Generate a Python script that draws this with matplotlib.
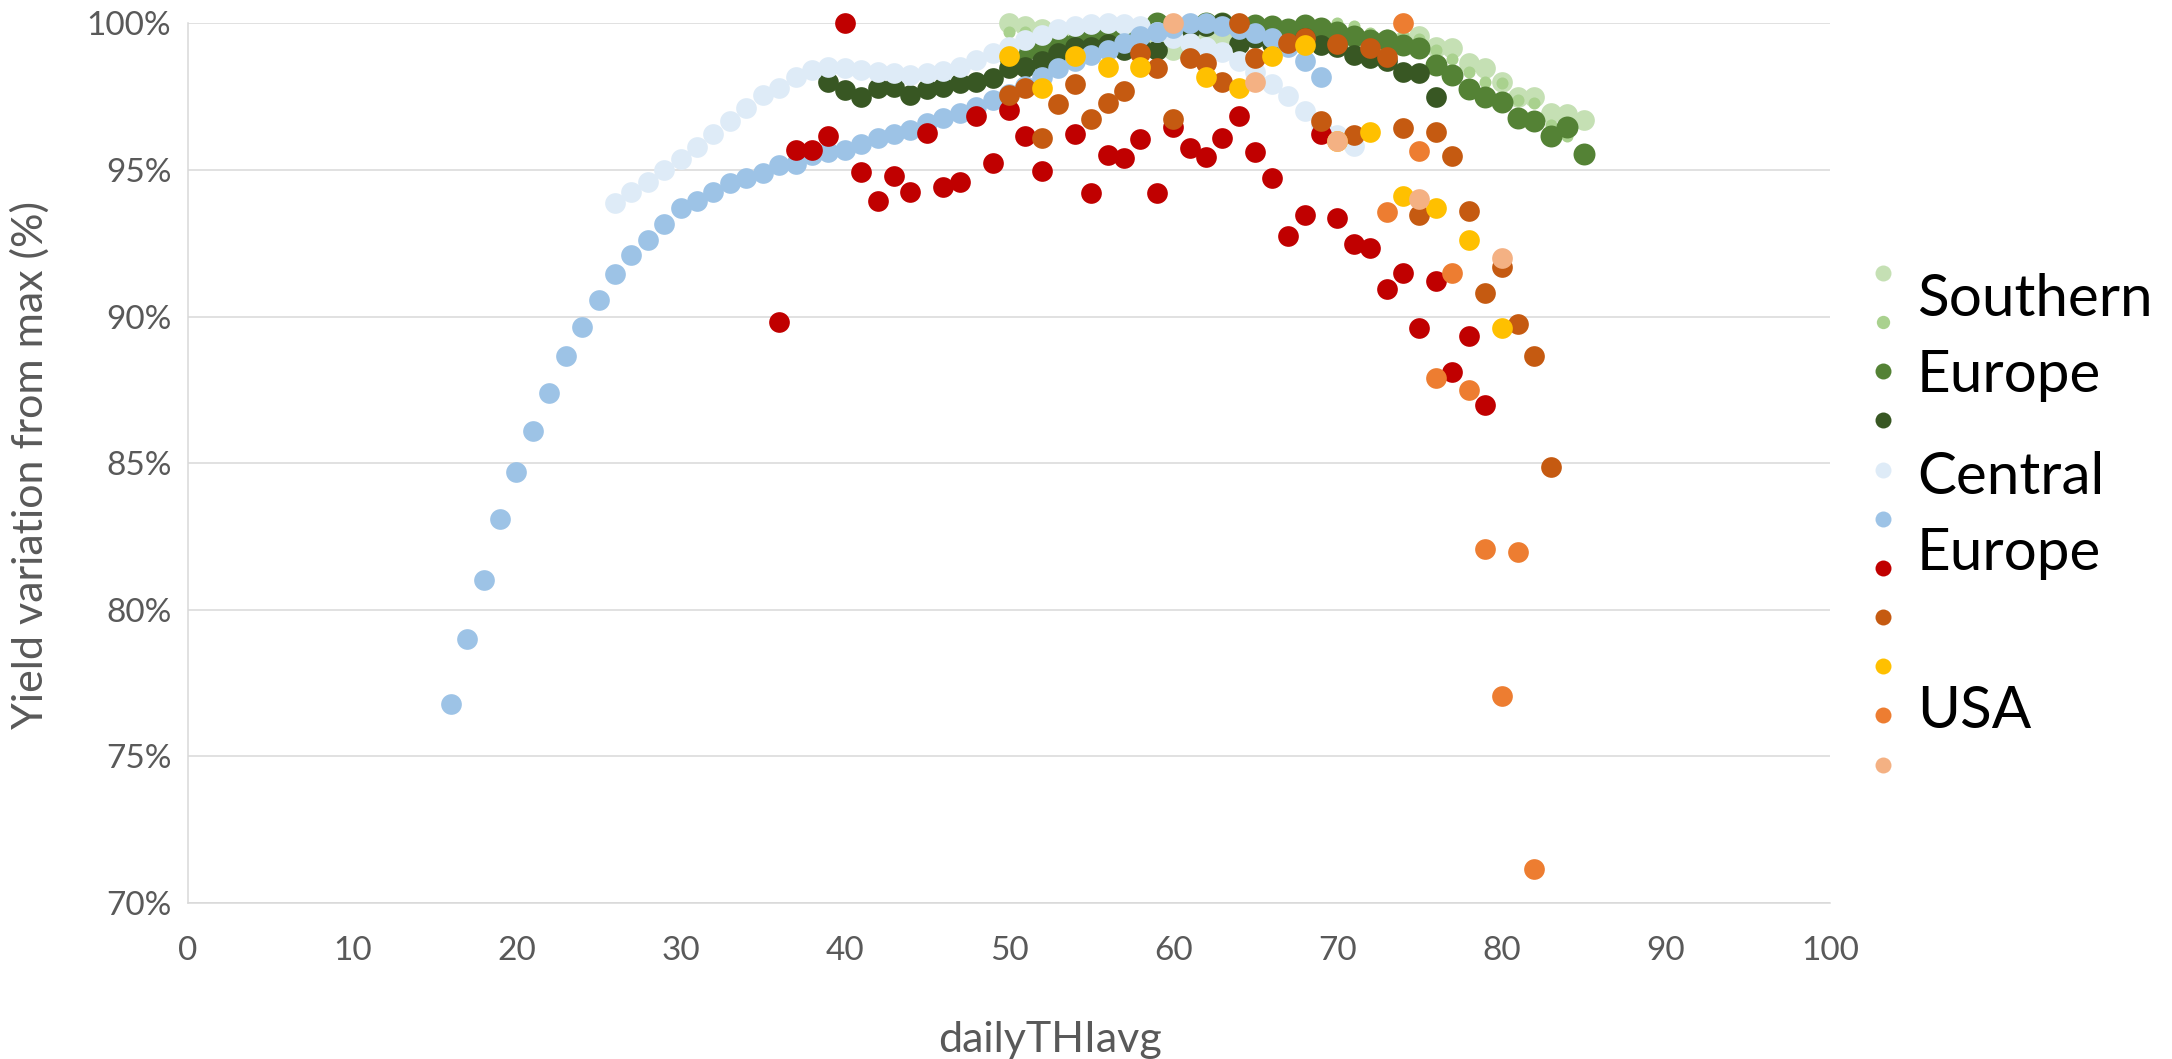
import matplotlib
matplotlib.use("Agg")
import matplotlib.pyplot as plt
from matplotlib.lines import Line2D
from matplotlib.ticker import FuncFormatter, MultipleLocator

plt.rcParams['font.family'] = ['Lato', 'DejaVu Sans']

# Southern Europe
south_a_x = list(range(50, 86))
south_a_y = [100, 99.9, 99.8, 99.7, 99.6, 99.6, 99.55, 99.5, 99.4, 99.3, 99.1, 99.5, 99.6, 99.6,
             99.6, 99.6, 99.5, 99.5, 99.5, 99.4, 99.6, 99.5, 99.4, 99.3, 99.4, 99.55, 99.2, 99.15,
             98.64, 98.47, 98.0, 97.5, 97.5, 96.93, 96.9, 96.7]
south_b_x = list(range(50, 85))
south_b_y = [99.7, 99.7, 99.6, 99.6, 99.7, 99.7, 99.6, 99.6, 99.7, 99.8, 99.8, 99.9, 99.9, 99.9,
             99.8, 99.8, 99.8, 99.9, 99.9, 99.9, 100, 99.9, 99.66, 99.6, 99.55, 99.45, 99.1, 98.77,
             98.35, 98.0, 97.95, 97.4, 97.27, 96.53, 96.14]
south_c_x = list(range(50, 86))
south_c_y = [98.9, 99.1, 99.2, 99.4, 99.3, 99.5, 99.6, 99.7, 99.8, 100, 99.9, 99.9, 100, 100,
             99.9, 99.95, 99.9, 99.8, 99.94, 99.83, 99.7, 99.55, 99.43, 99.43, 99.26, 99.15, 98.58,
             98.24, 97.75, 97.5, 97.33, 96.76, 96.68, 96.16, 96.48, 95.55]
south_d_x = list(range(39, 77))
south_d_y = [98.0, 97.73, 97.5, 97.78, 97.82, 97.56, 97.75, 97.84, 97.98, 98.0, 98.13, 98.47,
             98.52, 98.7, 98.98, 99.2, 99.2, 99.3, 99.1, 99.2, 99.1, 99.6, 99.8, 99.9, 100, 99.3,
             99.5, 99.3, 99.3, 99.5, 99.26, 99.2, 98.92, 98.8, 98.7, 98.35, 98.3, 97.48]

# Central Europe
central_a_x = list(range(26, 72))
central_a_y = [93.88, 94.26, 94.6, 95.0, 95.36, 95.79, 96.22, 96.68, 97.1, 97.55, 97.8, 98.18,
               98.4, 98.52, 98.47, 98.4, 98.35, 98.3, 98.24, 98.3, 98.38, 98.52, 98.75, 98.98,
               99.2, 99.43, 99.6, 99.8, 99.9, 99.98, 100, 99.98, 99.9, 99.7, 99.5, 99.34, 99.2,
               99.03, 98.7, 98.35, 97.92, 97.52, 97.0, 96.5, 96.2, 95.8]
central_b_x = list(range(16, 70))
central_b_y = [76.8, 79.0, 81.0, 83.1, 84.7, 86.1, 87.4, 88.66, 89.66, 90.57, 91.45, 92.1, 92.61,
               93.15, 93.7, 93.93, 94.23, 94.57, 94.72, 94.9, 95.17, 95.2, 95.5, 95.6, 95.68,
               95.9, 96.08, 96.23, 96.36, 96.6, 96.76, 96.93, 97.16, 97.4, 97.6, 97.85, 98.16,
               98.47, 98.7, 98.92, 99.1, 99.34, 99.57, 99.72, 99.83, 100, 100, 99.9, 99.8, 99.66,
               99.5, 99.2, 98.7, 98.16]

# USA
usa_a_x = [36, 37, 38, 39, 40, 41, 42, 43, 44, 45, 46, 47, 48, 49, 50, 51, 52, 54, 55, 56, 57,
           58, 59, 60, 61, 62, 63, 64, 65, 66, 67, 68, 69, 70, 71, 72, 73, 74, 75, 76, 77, 78, 79]
usa_a_y = [89.8, 95.68, 95.68, 96.14, 100, 94.92, 93.95, 94.8, 94.25, 96.27, 94.41, 94.6, 96.85,
           95.23, 97.05, 96.14, 94.98, 96.22, 94.2, 95.5, 95.4, 96.07, 94.2, 96.47, 95.74, 95.43,
           96.1, 96.85, 95.61, 94.74, 92.75, 93.45, 96.24, 93.36, 92.47, 92.35, 90.93, 91.5,
           89.6, 91.2, 88.1, 89.35, 86.97]
usa_b_x = [50, 51, 52, 53, 54, 55, 56, 57, 58, 59, 60, 61, 62, 63, 64, 65, 67, 68, 69, 70, 71,
           72, 73, 74, 75, 76, 77, 78, 79, 80, 81, 82, 83]
usa_b_y = [97.56, 97.78, 96.08, 97.26, 97.93, 96.74, 97.27, 97.7, 98.98, 98.47, 96.74, 98.8,
           98.66, 98.0, 100, 98.8, 99.34, 99.5, 96.67, 99.3, 96.2, 99.15, 98.86, 96.42, 93.47,
           96.3, 95.49, 93.6, 90.8, 91.7, 89.76, 88.64, 84.88]
usa_c_x = [50, 52, 54, 56, 58, 62, 64, 66, 68, 70, 72, 74, 76, 78, 80]
usa_c_y = [98.89, 97.78, 98.89, 98.52, 98.52, 98.16, 97.78, 98.89, 99.26, 95.97, 96.3, 94.1,
           93.7, 92.6, 89.62]
usa_d_x = [73, 74, 75, 76, 77, 78, 79, 80, 81, 82]
usa_d_y = [93.58, 100, 95.66, 87.92, 91.5, 87.48, 82.07, 77.07, 81.96, 71.17]
usa_e_x = [60, 65, 70, 75, 80]
usa_e_y = [100, 98.0, 95.97, 94.0, 91.99]

x_ticks = list(range(0, 101, 10))
legend_words = ["Southern", "Europe", "Central", "Europe", "USA"]

series = [
    (south_a_x, south_a_y, "#C5E0B4", 222),
    (south_b_x, south_b_y, "#A9D18E", 75),
    (south_c_x, south_c_y, "#548235", 250),
    (south_d_x, south_d_y, "#385723", 222),
    (central_a_x, central_a_y, "#DEEBF7", 222),
    (central_b_x, central_b_y, "#9DC3E6", 222),
    (usa_a_x, usa_a_y, "#C00000", 222),
    (usa_b_x, usa_b_y, "#C55A11", 222),
    (usa_c_x, usa_c_y, "#FFC000", 222),
    (usa_d_x, usa_d_y, "#ED7D31", 222),
    (usa_e_x, usa_e_y, "#F4B183", 222),
]

fig = plt.figure(figsize=(21.72, 10.59), dpi=100)
ax = fig.add_axes([0.0866, 0.1473, 0.7559, 0.8307])

for xs, ys, col, s in series:
    ax.scatter(xs, ys, s=s, color=col, linewidths=0, clip_on=False, zorder=3)

ax.set_xlim(0, 100)
ax.set_ylim(70, 100)
ax.set_xticks(x_ticks)
ax.yaxis.set_major_locator(MultipleLocator(5))
ax.yaxis.set_major_formatter(FuncFormatter(lambda v, p: f"{v:.0f}%"))
ax.grid(axis='y', color='#D9D9D9', lw=1.1)
ax.set_axisbelow(True)
for side in ['top', 'right']:
    ax.spines[side].set_visible(False)
for side in ['left', 'bottom']:
    ax.spines[side].set_color('#D9D9D9')
    ax.spines[side].set_linewidth(1.1)
ax.tick_params(length=0, labelsize=24, colors='#595959')
ax.tick_params(axis='x', pad=24)
ax.tick_params(axis='y', pad=12)

fig.text(0.4834, 0.0066, "dailyTHIavg", fontsize=31, color='#595959', ha='center', va='baseline')
fig.text(0.0138, 0.561, "Yield variation from max (%)", fontsize=31, color='#595959',
         rotation=90, ha='center', va='center')

# legend markers (labels written separately, as in the source)
handles = []
for i, (xs, ys, col, s) in enumerate(series):
    ms = 9.6 if i == 1 else 11.5
    handles.append(Line2D([], [], ls='none', marker='o', ms=ms, color=col, mew=0))
ax.legend(handles, [''] * len(handles), loc='upper left',
          bbox_to_anchor=(0.854, 1 - 262 / 1059), bbox_transform=fig.transFigure,
          frameon=False, fontsize=20, handleheight=1.0, handlelength=2.0,
          labelspacing=0.8, borderpad=0, borderaxespad=0, handletextpad=0)

word_y = [0.7016, 0.6298, 0.5335, 0.4618, 0.3130]
for w, yy in zip(legend_words, word_y):
    fig.text(0.8826, yy, w, fontsize=42, color='black', ha='left', va='baseline')

fig.savefig("out.png", dpi=100)
